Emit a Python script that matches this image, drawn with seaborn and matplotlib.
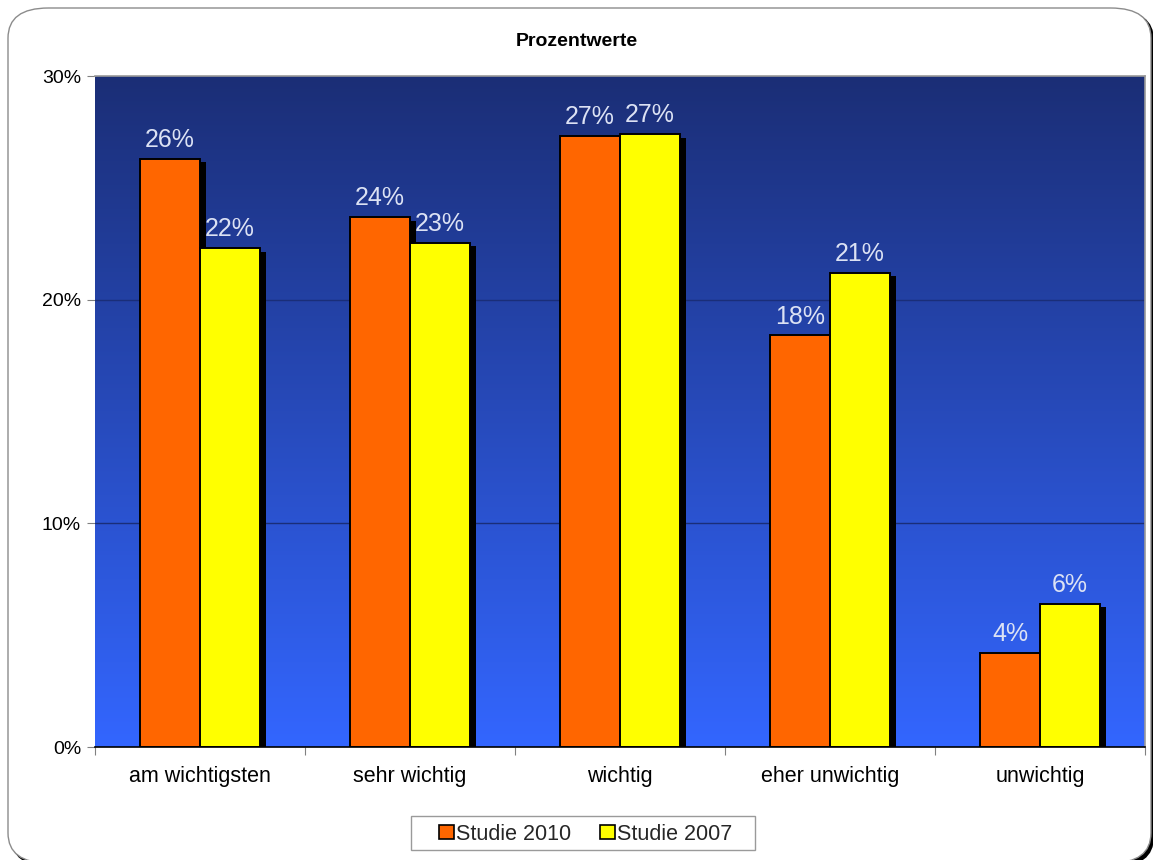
import numpy as np
import pandas as pd
import matplotlib
matplotlib.use("Agg")
import matplotlib.pyplot as plt
import matplotlib.patheffects as pe
from matplotlib.patches import FancyBboxPatch, Rectangle
from matplotlib.ticker import FixedLocator, PercentFormatter
import seaborn as sns

# Survey shares in percent
categories = ["am wichtigsten", "sehr wichtig", "wichtig", "eher unwichtig", "unwichtig"]
studie_2010 = [26.3, 23.7, 27.3, 18.4, 4.2]
studie_2007 = [22.3, 22.55, 27.4, 21.2, 6.4]
series_names = ["Studie 2010", "Studie 2007"]
series_colors = ["#FF6600", "#FFFF00"]
y_ticks = [0, 10, 20, 30]

df = pd.DataFrame({
    "Kategorie": categories * 2,
    "Wert": studie_2010 + studie_2007,
    "Studie": [series_names[0]] * len(categories) + [series_names[1]] * len(categories),
})

sns.set_theme(style="white")
plt.rcParams["font.family"] = ["Liberation Sans", "DejaVu Sans"]

W, H = 1153, 860
fig = plt.figure(figsize=(W / 100, H / 100), dpi=100)
fig.patch.set_facecolor("white")

# Rounded frame around the whole chart with a dark lower-right shadow
shadow = FancyBboxPatch((11 / W, -7 / H), (W - 10) / W, (H + 5 - 8) / H,
                        boxstyle="round,pad=0,rounding_size=0.035",
                        transform=fig.transFigure, facecolor="black",
                        edgecolor="none", zorder=-3)
frame = FancyBboxPatch((8 / W, -3 / H), (W - 10) / W, (H + 3 - 8) / H,
                       boxstyle="round,pad=0,rounding_size=0.035",
                       transform=fig.transFigure, facecolor="white",
                       edgecolor="#8C8C8C", linewidth=1.0, zorder=-2)
legend_box = Rectangle((411 / W, 1 - 850 / H), (755 - 411) / W, 34 / H,
                       transform=fig.transFigure, facecolor="white",
                       edgecolor="#9A9A9A", linewidth=1.0, zorder=-1)
fig.patches.extend([shadow, frame, legend_box])

ax = fig.add_axes([95 / W, 1 - 747 / H, (1145 - 95) / W, (747 - 76) / H])
ax.set_facecolor("none")
ax.set_zorder(1)

sns.barplot(data=df, x="Kategorie", y="Wert", hue="Studie", order=categories,
            hue_order=series_names, palette=series_colors, width=0.572,
            edgecolor="black", linewidth=1.4, saturation=1, ax=ax, zorder=3,
            legend=True)

ax.set_ylim(0, 30)
ax.set_xlim(-0.5, len(categories) - 0.5)

# Vertical gradient background of the plot area
grad = np.linspace(0, 1, 256).reshape(-1, 1)
top = np.array([27, 46, 118]) / 255
bottom = np.array([51, 102, 255]) / 255
img = top[None, None, :] * (1 - grad[:, :, None]) + bottom[None, None, :] * grad[:, :, None]
ax.imshow(img, extent=(-0.5, len(categories) - 0.5, 0, 30), aspect="auto",
          origin="upper", zorder=0, interpolation="bilinear")

# Gridlines
for v in y_ticks[1:-1]:
    ax.axhline(v, color="#1A2E78", linewidth=1.0, zorder=1)

# Shadows and value labels on the bars
for cont in ax.containers:
    for bar in cont:
        bar.set_path_effects([
            pe.SimplePatchShadow(offset=(4.3, -2.6), shadow_rgbFace="black", alpha=1.0),
            pe.Normal(),
        ])
    ax.bar_label(cont, labels=[f"{b.get_height():.0f}%" for b in cont],
                 padding=5, color="#DCE2F4", fontsize=18, zorder=5)

# Axes styling
ax.yaxis.set_major_locator(FixedLocator(y_ticks))
ax.yaxis.set_major_formatter(PercentFormatter(decimals=0))
ax.tick_params(axis="y", which="major", length=6, width=0.8, color="#808080",
               direction="out", labelsize=14, pad=4, labelcolor="black", left=True)
ax.xaxis.set_minor_locator(FixedLocator(np.arange(-0.5, len(categories), 1.0)))
ax.tick_params(axis="x", which="minor", length=6, width=0.8, color="#808080",
               direction="out", bottom=True)
ax.tick_params(axis="x", which="major", length=0, labelsize=15.5, pad=14,
               labelcolor="black")
ax.set_xlabel("")
ax.set_ylabel("")

for side in ["top", "right"]:
    ax.spines[side].set_visible(True)
    ax.spines[side].set_color("#9A9A9A")
    ax.spines[side].set_linewidth(1.2)
ax.spines["left"].set_visible(False)
ax.spines["bottom"].set_color("black")
ax.spines["bottom"].set_linewidth(1.2)
ax.spines["bottom"].set_zorder(4)

fig.text(0.5, 1 - 42 / H, "Prozentwerte", ha="center", va="center",
         fontsize=14, fontweight="bold", color="black")

# Legend below the plot, centred in its box
leg = ax.legend(loc="center", bbox_to_anchor=(586 / W, 1 - 834 / H),
                bbox_transform=fig.transFigure, ncol=2, frameon=False,
                fontsize=15.5, handlelength=0.68, handleheight=0.68,
                handletextpad=0.1, columnspacing=1.35, borderpad=0.2)
for h in leg.legend_handles:
    h.set_path_effects([])
    h.set_edgecolor("black")
    h.set_linewidth(1.2)

fig.savefig("out.png", dpi=100, facecolor="white")
